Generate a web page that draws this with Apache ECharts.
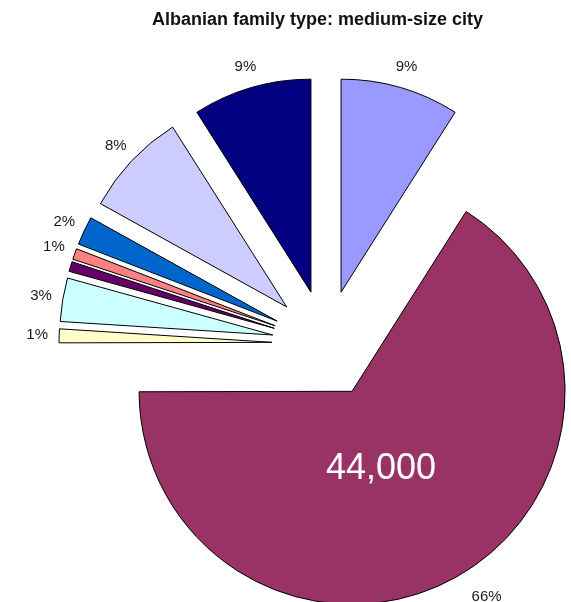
<!DOCTYPE html>
<html>
<head>
<meta charset="utf-8">
<script src="https://cdn.jsdelivr.net/npm/echarts@6/dist/echarts.min.js"></script>
<style>
  html, body { margin: 0; padding: 0; background: #ffffff; }
  #chart { width: 571px; height: 602px; }
</style>
</head>
<body>
<div id="chart"></div>
<script>
// Household counts by family type, clockwise from 12 o'clock
const titleText = 'Albanian family type: medium-size city';
const familyTypes = ['Type A', 'Type B', 'Type C', 'Type D', 'Type E', 'Type F', 'Type G', 'Type H', 'Type I'];
const households = [6000, 44000, 700, 2200, 500, 550, 1450, 5300, 6000];
// slices whose share is not printed
const unlabelledTypes = ['Type E'];
// slice that also shows its absolute count
const countedType = 'Type B';

const sliceColors = ['#9999FF', '#993366', '#FFFFCC', '#CCFFFF', '#660066', '#FF8080', '#0066CC', '#CCCCFF', '#000080'];
const FONT = 'Arial, "Liberation Sans", sans-serif';
const CENTER = [326, 344];
const RADIUS = 213;
const EXPLODE = 54;

const chart = echarts.init(document.getElementById('chart'), null, { renderer: 'canvas' });

function baseSeries() {
  return {
    type: 'pie',
    center: CENTER,
    startAngle: 90,
    clockwise: true,
    selectedMode: 'multiple',
    selectedOffset: EXPLODE,
    avoidLabelOverlap: false,
    animation: false,
    silent: true,
    emphasis: { disabled: true, scale: false },
    labelLine: { show: false }
  };
}

const sectors = familyTypes.map((name, i) => ({
  name,
  value: households[i],
  selected: true,
  itemStyle: { color: sliceColors[i] },
  select: { itemStyle: { color: sliceColors[i], borderColor: '#000', borderWidth: 1 } }
}));

// the large slice's share sits a little further round the rim
const percentLabels = familyTypes.map((name, i) => ({
  name,
  value: households[i],
  selected: true,
  label: {
    show: unlabelledTypes.indexOf(name) < 0,
    padding: name === countedType ? [0, 0, 0, 42] : 0
  }
}));

const countLabels = familyTypes.map((name, i) => ({
  name,
  value: households[i],
  selected: true,
  label: { show: name === countedType }
}));

const transparent = { color: 'rgba(0,0,0,0)', borderWidth: 0 };

chart.setOption({
  backgroundColor: '#ffffff',
  title: {
    text: titleText,
    left: 147,
    top: 6,
    textStyle: { fontFamily: FONT, fontSize: 18, fontWeight: 'bold', color: '#111' }
  },
  series: [
    Object.assign(baseSeries(), {
      radius: RADIUS,
      label: { show: false },
      itemStyle: { borderColor: '#000', borderWidth: 1 },
      data: sectors
    }),
    Object.assign(baseSeries(), {
      radius: [RADIUS + 17, RADIUS + 21],
      itemStyle: transparent,
      select: { itemStyle: transparent },
      label: {
        position: 'inside',
        rotate: 0,
        fontFamily: FONT,
        fontSize: 15,
        color: '#1a1a1a',
        formatter: p => Math.round(p.percent) + '%'
      },
      data: percentLabels
    }),
    Object.assign(baseSeries(), {
      radius: [0, 172],
      itemStyle: transparent,
      select: { itemStyle: transparent },
      label: {
        position: 'inside',
        rotate: 0,
        fontFamily: FONT,
        fontSize: 36,
        color: '#ffffff',
        padding: [8, 28, 0, 0],
        formatter: p => p.value.toLocaleString('en-US')
      },
      data: countLabels
    })
  ]
});
</script>
</body>
</html>
